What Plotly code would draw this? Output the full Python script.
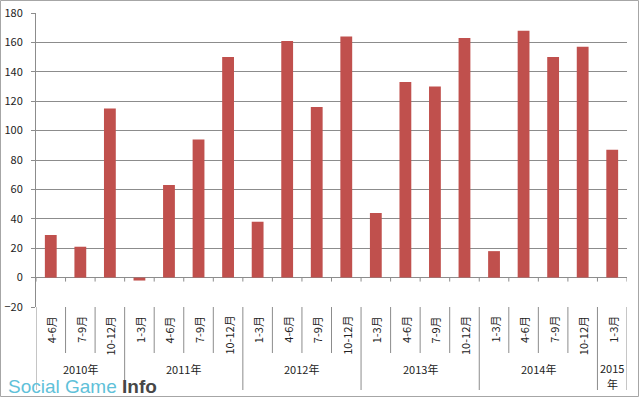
import plotly.graph_objects as go

# ---- data ----
quarters = ["4-6月", "7-9月", "10-12月",
            "1-3月", "4-6月", "7-9月", "10-12月",
            "1-3月", "4-6月", "7-9月", "10-12月",
            "1-3月", "4-6月", "7-9月", "10-12月",
            "1-3月", "4-6月", "7-9月", "10-12月",
            "1-3月"]
year_labels = ["2010年", "2011年", "2012年", "2013年", "2014年", "2015年"]
year_counts = [3, 4, 4, 4, 4, 1]
values = [29, 21, 115, -2, 63, 94, 150, 38, 161, 116, 164, 44, 133, 130, 163,
          18, 168, 150, 157, 87]
y_ticks = [-20, 0, 20, 40, 60, 80, 100, 120, 140, 160, 180]

# ---- layout constants (pixels) ----
W, H = 640, 398
L, R, T, B = 36, 13, 13, 91
PW, PH = W - L - R, H - T - B
FONT = "Noto Sans CJK JP, DejaVu Sans, sans-serif"
GRID = "#8c8c8c"
TXT = "#222222"


def py(ypix):
    return (H - B - ypix) / PH


def px(xpix):
    return (xpix - L) / PW


n = len(quarters)
xs = list(range(n))

fig = go.Figure(go.Bar(x=xs, y=values, marker=dict(color="#C0504D", line=dict(width=0)),
                       width=0.4))

shapes = []
annotations = []

# category labels
for i, q in enumerate(quarters):
    annotations.append(dict(x=i, y=py(314), xref="x", yref="paper", text=q,
                            textangle=-90, showarrow=False, xanchor="center", yanchor="top",
                            font=dict(family=FONT, size=11, color=TXT)))
# boundaries
bounds_year = [-0.5]
acc = -0.5
for c in year_counts:
    acc += c
    bounds_year.append(acc)
for k in range(n + 1):
    b = k - 0.5
    is_year = any(abs(b - yb) < 1e-9 for yb in bounds_year)
    y_end = py(390) if is_year else py(353)
    shapes.append(dict(type="line", xref="x", yref="paper", x0=b, x1=b, y0=0, y1=y_end,
                       line=dict(color=GRID, width=1)))
    # tick marks on zero line
    shapes.append(dict(type="line", xref="x", yref="y", x0=b, x1=b, y0=0, y1=-2.7,
                       line=dict(color=GRID, width=1)))

# year labels (a one-quarter group wraps the 年 onto a second line)
start = 0
for lab, c in zip(year_labels, year_counts):
    center = start + (c - 1) / 2
    if c == 1:
        parts = [(lab[:-1], 367.5), (lab[-1], 384)]
    else:
        parts = [(lab, 369)]
    for txt, ypix in parts:
        annotations.append(dict(x=center, y=py(ypix), xref="x", yref="paper", text=txt,
                                showarrow=False, xanchor="center", yanchor="middle",
                                borderpad=0,
                                font=dict(family=FONT, size=11, color=TXT)))
    start += c

# outer border
shapes.append(dict(type="rect", xref="paper", yref="paper", x0=px(0.5), x1=px(638.5),
                   y0=py(396.5), y1=py(0.5), line=dict(color="#a6a6a6", width=1)))

# watermark
annotations.append(dict(x=px(7), y=py(397.5), xref="paper", yref="paper",
                        text="<span style='color:#5fc1d9'>Social Game</span> "
                             "<b><span style='color:#474747'>Info</span></b>",
                        showarrow=False, xanchor="left", yanchor="bottom", borderpad=0,
                        font=dict(family="Liberation Sans, Arial, sans-serif", size=19)))

fig.update_layout(
    width=W, height=H,
    margin=dict(l=L, r=R, t=T, b=B, pad=0, autoexpand=False),
    paper_bgcolor="white", plot_bgcolor="white",
    showlegend=False,
    xaxis=dict(range=[-0.5, n - 0.5], showticklabels=False, showgrid=False,
               zeroline=False, ticks="", showline=False, fixedrange=True,
               automargin=False),
    yaxis=dict(range=[-20, 180], tickvals=y_ticks, showgrid=True, gridcolor=GRID,
               gridwidth=1, zeroline=False, showline=True, linecolor=GRID, linewidth=1,
               ticks="outside", ticklen=4, tickcolor=GRID, ticklabelstandoff=6,
               automargin=False,
               tickfont=dict(family=FONT, size=11, color=TXT), fixedrange=True),
    shapes=shapes,
    annotations=annotations,
)

fig.write_html("out.html")
